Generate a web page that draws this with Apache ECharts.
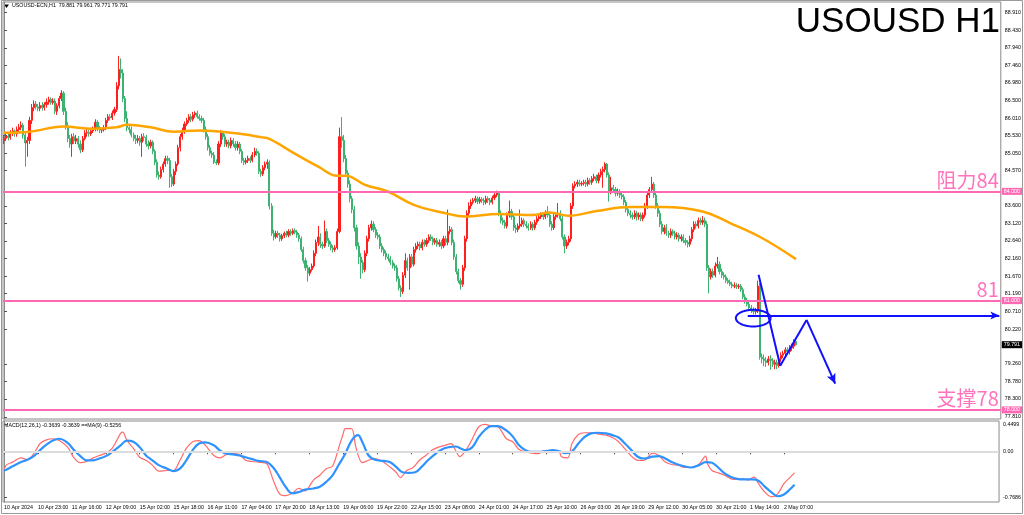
<!DOCTYPE html>
<html><head><meta charset="utf-8">
<script src="https://cdn.jsdelivr.net/npm/echarts@6/dist/echarts.min.js"></script>
<style>html,body{margin:0;padding:0;background:#fff}#c{width:1024px;height:515px}</style>
</head><body><div id="c"></div>
<script>
// ---------- DATA ----------
const tickLabels = ['10 Apr 2024','10 Apr 23:00','11 Apr 16:00','12 Apr 09:00','15 Apr 02:00','15 Apr 18:00','16 Apr 11:00','17 Apr 04:00','17 Apr 20:00','18 Apr 13:00','19 Apr 06:00','19 Apr 22:00','22 Apr 15:00','23 Apr 08:00','24 Apr 01:00','24 Apr 17:00','25 Apr 10:00','26 Apr 03:00','26 Apr 19:00','29 Apr 12:00','30 Apr 05:00','30 Apr 21:00','1 May 14:00','2 May 07:00'];
const priceTicks = [88.91,88.43,87.94,87.46,86.98,86.50,86.01,85.53,85.05,84.57,83.60,83.12,82.64,82.16,81.67,81.19,80.71,80.22,79.26,78.78,78.30,77.81];
const macdTicks = [0.4499, 0, -0.7686];
const macdTickLabels = ['0.4499', '0.00', '-0.7686'];

const opens = [85.40,85.45,85.52,85.48,85.60,85.66,85.58,85.70,85.76,85.82,
85.55,85.33,85.40,85.95,86.30,86.40,86.32,86.28,86.36,86.30,
86.38,86.45,86.52,86.44,86.48,86.20,86.35,86.55,86.70,86.20,
85.80,85.45,85.30,85.50,85.38,85.45,85.30,85.14,85.45,85.60,
85.62,85.58,85.66,85.70,85.90,85.72,85.68,85.70,85.75,85.95,
86.05,86.02,86.15,86.25,86.90,87.35,87.25,86.55,86.00,85.75,
85.70,85.55,85.45,85.40,85.45,85.35,85.50,85.48,85.30,85.25,
85.35,85.10,84.80,84.45,84.40,84.60,84.75,84.90,84.85,84.40,
84.20,84.55,84.75,85.20,85.50,85.65,85.85,85.95,86.05,85.98,
86.10,86.15,86.05,86.00,85.95,85.70,85.50,85.20,85.05,85.00,
84.80,84.78,85.30,85.60,85.50,85.30,85.35,85.25,85.40,85.30,
85.20,85.30,85.10,84.85,84.80,84.85,84.90,84.85,85.00,85.10,
85.05,84.55,84.48,84.65,84.75,84.80,83.60,82.85,82.75,82.85,
82.80,82.70,82.78,82.85,82.80,82.90,82.85,82.92,82.88,82.80,
82.70,82.40,82.10,81.90,81.75,81.85,81.95,82.30,82.60,82.75,
82.55,82.50,82.90,82.65,82.55,82.45,82.40,82.45,82.90,85.50,
85.40,84.90,84.50,84.20,83.80,83.50,83.00,82.50,82.20,82.05,
81.85,82.30,82.70,83.00,83.10,82.95,82.80,82.75,82.50,82.40,
82.30,82.20,82.15,82.05,81.95,81.90,81.60,81.35,81.25,81.70,
82.10,81.90,82.20,82.00,82.40,82.50,82.55,82.45,82.60,82.55,
82.65,82.75,82.70,82.60,82.65,82.55,82.60,82.50,82.70,82.60,
82.90,82.95,82.60,82.20,81.80,81.55,81.45,81.90,82.70,83.40,
83.60,83.70,83.75,83.80,83.72,83.78,83.75,83.70,83.80,83.76,
83.70,83.82,83.90,83.95,83.40,83.20,83.15,83.05,83.35,83.45,
83.30,83.00,82.95,83.05,83.10,83.20,83.10,83.05,83.00,83.10,
83.00,83.15,83.25,83.30,83.35,83.30,83.40,83.35,83.10,83.00,
83.30,83.35,83.40,83.25,82.75,82.50,82.60,82.70,83.60,84.15,
84.20,84.25,84.20,84.22,84.25,84.20,84.30,84.25,84.35,84.40,
84.30,84.45,84.55,84.60,84.75,84.45,84.00,84.10,84.05,83.95,
84.00,83.90,83.85,83.70,83.50,83.40,83.35,83.30,83.40,83.30,
83.35,83.25,83.35,83.60,83.90,84.05,84.20,83.90,83.60,83.40,
83.10,82.90,83.00,82.85,82.80,82.90,82.85,82.75,82.80,82.70,
82.75,82.65,82.60,82.55,82.70,82.95,83.10,83.05,83.20,83.15,
83.20,83.10,81.90,81.65,81.80,81.70,81.95,82.00,81.80,81.70,
81.65,81.55,81.50,81.45,81.40,81.42,81.38,81.40,81.30,81.10,
81.00,80.90,80.80,80.75,80.70,80.72,81.40,79.45,79.40,79.35,
79.30,79.40,79.35,79.25,79.30,79.22,79.40,79.50,79.55,79.65,
79.60,79.70,79.75,79.88];

const closes = [85.45,85.52,85.48,85.60,85.66,85.58,85.70,85.76,85.82,85.55,
85.33,85.40,85.95,86.30,86.40,86.32,86.28,86.36,86.30,86.38,
86.45,86.52,86.44,86.48,86.20,86.35,86.55,86.70,86.20,85.80,
85.45,85.30,85.50,85.38,85.45,85.30,85.14,85.45,85.60,85.62,
85.58,85.66,85.70,85.90,85.72,85.68,85.70,85.75,85.95,86.05,
86.02,86.15,86.25,86.90,87.35,87.25,86.55,86.00,85.75,85.70,
85.55,85.45,85.40,85.45,85.35,85.50,85.48,85.30,85.25,85.35,
85.10,84.80,84.45,84.40,84.60,84.75,84.90,84.85,84.40,84.20,
84.55,84.75,85.20,85.50,85.65,85.85,85.95,86.05,85.98,86.10,
86.15,86.05,86.00,85.95,85.70,85.50,85.20,85.05,85.00,84.80,
84.78,85.30,85.60,85.50,85.30,85.35,85.25,85.40,85.30,85.20,
85.30,85.10,84.85,84.80,84.85,84.90,84.85,85.00,85.10,85.05,
84.55,84.48,84.65,84.75,84.80,83.60,82.85,82.75,82.85,82.80,
82.70,82.78,82.85,82.80,82.90,82.85,82.92,82.88,82.80,82.70,
82.40,82.10,81.90,81.75,81.85,81.95,82.30,82.60,82.75,82.55,
82.50,82.90,82.65,82.55,82.45,82.40,82.45,82.90,85.50,85.40,
84.90,84.50,84.20,83.80,83.50,83.00,82.50,82.20,82.05,81.85,
82.30,82.70,83.00,83.10,82.95,82.80,82.75,82.50,82.40,82.30,
82.20,82.15,82.05,81.95,81.90,81.60,81.35,81.25,81.70,82.10,
81.90,82.20,82.00,82.40,82.50,82.55,82.45,82.60,82.55,82.65,
82.75,82.70,82.60,82.65,82.55,82.60,82.50,82.70,82.60,82.90,
82.95,82.60,82.20,81.80,81.55,81.45,81.90,82.70,83.40,83.60,
83.70,83.75,83.80,83.72,83.78,83.75,83.70,83.80,83.76,83.70,
83.82,83.90,83.95,83.40,83.20,83.15,83.05,83.35,83.45,83.30,
83.00,82.95,83.05,83.10,83.20,83.10,83.05,83.00,83.10,83.00,
83.15,83.25,83.30,83.35,83.30,83.40,83.35,83.10,83.00,83.30,
83.35,83.40,83.25,82.75,82.50,82.60,82.70,83.60,84.15,84.20,
84.25,84.20,84.22,84.25,84.20,84.30,84.25,84.35,84.40,84.30,
84.45,84.55,84.60,84.75,84.45,84.00,84.10,84.05,83.95,84.00,
83.90,83.85,83.70,83.50,83.40,83.35,83.30,83.40,83.30,83.35,
83.25,83.35,83.60,83.90,84.05,84.20,83.90,83.60,83.40,83.10,
82.90,83.00,82.85,82.80,82.90,82.85,82.75,82.80,82.70,82.75,
82.65,82.60,82.55,82.70,82.95,83.10,83.05,83.20,83.15,83.20,
83.10,81.90,81.65,81.80,81.70,81.95,82.00,81.80,81.70,81.65,
81.55,81.50,81.45,81.40,81.42,81.38,81.40,81.30,81.10,81.00,
80.90,80.80,80.75,80.70,80.72,81.40,79.45,79.40,79.35,79.30,
79.40,79.35,79.25,79.30,79.22,79.40,79.50,79.55,79.65,79.60,
79.70,79.75,79.88,79.79];

const highs = [85.55,85.60,85.58,85.68,85.75,85.70,85.78,85.85,85.92,85.88,
85.62,85.50,86.05,86.40,86.50,86.48,86.40,86.45,86.45,86.45,
86.55,86.60,86.58,86.56,86.55,86.42,86.62,86.78,86.75,86.30,
85.90,85.55,85.58,85.60,85.55,85.52,85.40,85.52,85.68,85.72,
85.70,85.72,85.78,85.98,85.95,85.80,85.76,85.82,86.02,86.12,
86.12,86.22,86.32,87.00,87.72,87.65,87.35,86.62,86.20,85.85,
85.78,85.62,85.55,85.55,85.52,85.58,85.60,85.55,85.40,85.42,
85.40,85.15,84.88,84.55,84.68,84.82,84.98,84.98,84.92,84.48,
84.62,84.82,85.28,85.58,85.75,85.92,86.02,86.12,86.12,86.18,
86.20,86.22,86.12,86.08,86.02,85.78,85.58,85.28,85.12,85.08,
84.88,85.38,85.68,85.66,85.58,85.42,85.42,85.48,85.46,85.38,
85.38,85.36,85.16,84.92,84.92,84.98,84.96,85.08,85.20,85.18,
85.10,84.62,84.72,84.82,84.88,84.85,83.68,82.95,82.92,82.92,
82.86,82.84,82.90,82.92,82.96,82.96,82.98,82.98,82.94,82.86,
82.76,82.48,82.18,81.98,81.92,82.02,82.38,82.68,83.05,82.85,
82.62,83.20,82.98,82.72,82.62,82.52,82.52,82.98,85.75,86.04,
85.55,85.00,84.58,84.30,83.88,83.60,83.08,82.60,82.30,82.12,
82.38,82.78,83.08,83.20,83.18,83.02,82.88,82.82,82.58,82.46,
82.38,82.28,82.22,82.12,82.02,81.98,81.68,81.42,81.78,82.30,
82.18,82.28,82.28,82.48,82.58,82.62,82.62,82.68,82.68,82.72,
82.82,82.82,82.76,82.72,82.72,82.68,82.66,82.78,82.78,83.50,
83.05,83.02,82.68,82.28,81.88,81.62,81.98,82.78,83.48,83.70,
83.78,83.82,83.88,83.86,83.85,83.84,83.82,83.88,83.86,83.82,
83.88,83.96,84.02,83.98,83.48,83.28,83.22,83.42,83.75,83.52,
83.38,83.08,83.12,83.50,83.28,83.26,83.18,83.12,83.18,83.16,
83.22,83.32,83.38,83.42,83.42,83.48,83.60,83.42,83.18,83.38,
83.42,83.68,83.48,83.32,82.82,82.68,82.78,83.68,84.22,84.28,
84.32,84.32,84.28,84.32,84.32,84.38,84.36,84.42,84.48,84.46,
84.52,84.62,84.68,84.80,84.78,84.52,84.40,84.18,84.12,84.08,
84.06,83.96,83.92,83.76,83.58,83.48,83.42,83.48,83.46,83.42,
83.42,83.42,83.68,83.98,84.12,84.40,84.26,83.98,83.68,83.48,
83.18,83.08,83.10,82.92,82.98,82.96,82.92,82.88,82.86,82.82,
82.82,82.72,82.66,82.78,83.02,83.18,83.18,83.28,83.28,83.32,
83.28,83.18,81.98,81.88,81.88,82.05,82.20,82.08,81.88,81.78,
81.72,81.62,81.58,81.52,81.50,81.48,81.46,81.46,81.36,81.18,
81.08,80.98,80.88,80.82,80.80,81.55,81.48,79.55,79.52,79.45,
79.48,79.50,79.42,79.38,79.38,79.48,79.58,79.62,79.72,79.72,
79.78,79.82,79.94,79.96];

const lows = [85.30,85.38,85.40,85.42,85.52,85.50,85.50,85.62,85.68,85.45,
84.68,84.95,85.30,85.85,86.20,86.25,86.20,86.20,86.22,86.22,
86.30,86.38,86.38,86.38,86.12,86.10,86.28,86.48,86.10,85.70,
85.35,85.20,84.95,85.30,85.30,85.20,85.05,85.08,85.40,85.50,
85.50,85.52,85.60,85.65,85.65,85.60,85.60,85.64,85.68,85.88,
85.95,85.96,86.08,86.18,86.80,87.10,86.45,85.90,85.65,85.60,
85.48,85.38,85.30,85.32,85.25,84.95,85.38,85.22,85.15,85.18,
85.02,84.72,84.38,84.32,84.35,84.52,84.68,84.75,84.10,84.12,
84.15,84.45,84.70,85.10,85.42,85.58,85.80,85.88,85.90,85.92,
86.02,86.00,85.94,85.88,85.62,85.42,85.12,84.98,84.92,84.75,
84.72,84.72,85.22,85.42,85.22,85.22,85.18,85.18,85.22,85.12,
85.12,85.02,84.78,84.72,84.74,84.78,84.78,84.80,84.94,84.98,
84.48,84.40,84.42,84.58,84.62,83.50,82.78,82.65,82.70,82.72,
82.62,82.64,82.72,82.74,82.74,82.78,82.80,82.82,82.72,82.62,
82.34,82.02,81.82,81.52,81.68,81.80,81.90,82.22,82.50,82.45,
82.42,82.45,82.58,82.48,82.38,82.32,82.34,82.40,82.85,85.20,
84.80,84.42,84.10,83.70,83.40,82.90,82.40,82.00,81.60,81.75,
81.78,82.22,82.62,82.92,82.88,82.72,82.68,82.42,82.32,82.22,
82.12,82.08,81.98,81.88,81.82,81.52,81.28,81.10,81.18,81.62,
81.82,81.30,81.92,81.94,82.32,82.42,82.38,82.38,82.48,82.48,
82.58,82.64,82.52,82.54,82.48,82.48,82.42,82.44,82.52,82.52,
82.82,82.52,82.12,81.72,81.48,81.30,81.38,81.82,82.62,83.32,
83.52,83.64,83.68,83.65,83.66,83.68,83.62,83.64,83.68,83.62,
83.64,83.76,83.84,83.32,83.12,83.08,82.98,82.98,83.28,83.22,
82.92,82.86,82.88,82.98,83.02,83.02,82.98,82.92,82.94,82.92,
82.94,83.08,83.18,83.24,83.22,83.24,83.28,83.02,82.92,82.94,
83.22,83.28,83.18,82.68,82.30,82.42,82.52,82.62,83.52,84.08,
84.12,84.14,84.14,84.16,84.12,84.14,84.18,84.18,84.28,84.22,
84.22,84.38,84.10,84.52,84.38,83.72,83.92,83.96,83.86,83.88,
83.82,83.78,83.62,83.42,83.32,83.26,83.22,83.24,83.20,83.22,
83.18,83.18,83.28,83.52,83.82,83.98,83.82,83.52,83.30,83.02,
82.82,82.82,82.78,82.72,82.72,82.78,82.68,82.68,82.62,82.62,
82.58,82.52,82.46,82.48,82.62,82.88,82.98,82.98,83.08,83.08,
83.02,81.82,81.20,81.58,81.62,81.64,81.88,81.72,81.62,81.58,
81.48,81.46,81.40,81.34,81.34,81.32,81.32,81.24,81.04,80.92,
80.84,80.72,80.66,80.62,80.62,80.66,79.38,79.28,79.20,79.18,
79.22,79.10,79.18,79.12,79.12,79.16,79.32,79.42,79.46,79.52,
79.52,79.62,79.68,79.77];

// moving average (orange) read at sample bars
const maIdx = [0,12,28,42,53,58,69,80,92,108,121,125,138,148,157,161,170,181,193,208,217,233,249,257,266,279,295,310,329,342,357,373];
const maVal = [85.61,85.64,85.78,85.72,85.76,85.83,85.76,85.64,85.67,85.60,85.49,85.44,85.00,84.68,84.43,84.43,84.18,83.99,83.63,83.40,83.31,83.38,83.35,83.42,83.33,83.46,83.57,83.57,83.45,83.13,82.72,82.14];

// MACD main (red) and signal (blue) read at sample bars
const macdIdx = [0,1,4,8,11,14,17,20,23,26,30,33,36,39,42,45,48,51,55,56,58,61,64,67,70,73,77,80,83,86,89,92,95,99,102,105,108,111,114,117,120,124,127,130,133,136,139,142,146,149,152,155,158,160,161,164,166,169,172,175,179,182,185,187,190,193,196,199,202,205,208,211,213,215,218,221,224,227,230,233,237,240,243,246,249,252,255,259,262,263,266,268,271,274,277,280,284,287,290,293,296,299,302,306,309,312,315,318,321,324,328,331,332,334,337,340,343,346,349,351,353,354,356,359,362,365,368,371,373];
const macdVal = [-0.32,-0.23,-0.18,-0.11,-0.14,-0.04,0.13,0.19,0.21,0.18,0.07,-0.11,-0.19,-0.17,-0.11,-0.07,-0.03,0.05,0.30,0.32,0.18,0.05,-0.10,-0.15,-0.23,-0.33,-0.32,-0.32,-0.15,0.05,0.16,0.18,0.10,-0.07,-0.11,-0.05,-0.04,-0.05,-0.15,-0.17,-0.18,-0.21,-0.48,-0.71,-0.74,-0.70,-0.62,-0.66,-0.48,-0.40,-0.29,-0.25,0.07,0.29,0.38,0.38,0.07,-0.19,-0.15,-0.12,-0.18,-0.26,-0.35,-0.44,-0.32,-0.27,-0.15,-0.07,0.02,0.07,0.10,0.13,0.02,-0.09,0.02,0.21,0.41,0.45,0.42,0.41,0.21,0.16,0.03,-0.01,-0.03,-0.04,0.01,0.01,-0.01,-0.09,-0.11,0.13,0.28,0.31,0.31,0.29,0.27,0.23,0.16,0.04,-0.08,-0.15,-0.15,-0.03,-0.07,-0.18,-0.22,-0.23,-0.27,-0.27,-0.21,-0.08,-0.21,-0.32,-0.36,-0.40,-0.46,-0.47,-0.46,-0.48,-0.44,-0.43,-0.54,-0.68,-0.76,-0.71,-0.54,-0.43,-0.36];
const sigIdx = [0,1,4,8,11,14,17,20,23,26,30,33,36,39,42,45,48,51,55,58,61,64,67,70,73,77,80,83,86,89,92,95,99,102,105,108,111,114,117,120,124,127,130,133,136,139,142,146,149,152,155,158,161,164,167,169,172,175,179,182,185,188,191,194,197,200,204,207,210,213,216,218,221,224,227,230,233,237,240,243,246,249,252,255,259,262,265,268,271,274,277,280,284,287,290,293,296,299,302,306,309,312,315,318,321,324,328,331,334,337,340,343,346,349,353,356,359,362,365,368,371,373];
const sigVal = [-0.32,-0.31,-0.25,-0.18,-0.14,-0.08,0.02,0.11,0.18,0.21,0.14,0.02,-0.08,-0.15,-0.15,-0.12,-0.08,-0.01,0.10,0.18,0.16,0.07,-0.07,-0.15,-0.23,-0.29,-0.33,-0.29,-0.15,0.02,0.13,0.15,0.10,0.01,-0.04,-0.05,-0.07,-0.10,-0.13,-0.16,-0.18,-0.27,-0.43,-0.60,-0.70,-0.68,-0.64,-0.62,-0.59,-0.51,-0.40,-0.22,-0.04,0.18,0.27,0.16,-0.07,-0.14,-0.16,-0.18,-0.26,-0.35,-0.36,-0.35,-0.26,-0.15,-0.03,0.04,0.07,0.08,0.04,0.02,0.07,0.24,0.36,0.42,0.42,0.35,0.25,0.10,0.02,-0.01,-0.01,0.00,0.02,0.00,-0.03,0.00,0.13,0.24,0.30,0.31,0.30,0.27,0.23,0.13,0.02,-0.09,-0.12,-0.09,-0.08,-0.12,-0.18,-0.22,-0.25,-0.27,-0.23,-0.18,-0.19,-0.27,-0.37,-0.43,-0.46,-0.47,-0.47,-0.49,-0.59,-0.68,-0.75,-0.72,-0.63,-0.56];

// levels and annotations (bar index, price)
const levels = [84, 81, 78];
const levelText = ['阻力84', '81', '支撑78'];
const lastPrice = 79.791;
const zigzag = [[355.4, 81.71], [365.6, 79.21], [378, 80.47], [391.5, 78.72]];
const hArrow = [[350.3, 80.59], [468.8, 80.59]];
const ellipse = [352.9, 80.52, 8.2, 0.228];

// ---------- CHART ----------
const NCAT = 470;
const categories = Array.from({length: NCAT}, (_, i) => String(i));
const candles = opens.map((o, i) => [o, closes[i], lows[i], highs[i]]);
const pair = (xs, ys) => xs.map((x, i) => [x, ys[i]]);
const FONT = 'Liberation Sans';
const PINK = '#ff69b4';
const BLUE = '#1010ff';

const labelFn = (idx) => idx % 16 === 0 && idx / 16 < tickLabels.length;

const markLevels = [];
levels.forEach((lv, k) => {
  markLevels.push({yAxis: lv, label: {show: true, position: 'insideEndTop', formatter: levelText[k], color: '#ff73bd', fontSize: 20, fontFamily: 'Noto Sans CJK SC', distance: [2, 1]}});
  markLevels.push({yAxis: lv, label: {show: true, position: 'end', formatter: lv.toFixed(3), color: '#fff', backgroundColor: PINK, fontSize: 5.3, fontFamily: FONT, padding: [1, 2, 1, 2], distance: 1}});
});

const zigLines = [];
for (let k = 0; k < zigzag.length - 1; k++) {
  const last = k === zigzag.length - 2;
  zigLines.push([{coord: zigzag[k], symbol: 'none'}, {coord: zigzag[k + 1], symbol: last ? 'arrow' : 'none', symbolSize: [7, 10]}]);
}
zigLines.push([{coord: hArrow[0], symbol: 'none'}, {coord: hArrow[1], symbol: 'arrow', symbolSize: [6, 9]}]);

const option = {
  animation: false,
  backgroundColor: '#fff',
  grid: [
    {left: 3, top: 2, width: 998.75, height: 417, show: true, borderColor: '#8a8a8a', borderWidth: 1},
    {left: 3, top: 421, width: 998.75, height: 81, show: true, borderColor: '#8a8a8a', borderWidth: 1}
  ],
  xAxis: [
    {type: 'category', gridIndex: 0, data: categories, boundaryGap: true, axisLine: {show: false}, axisTick: {show: false}, axisLabel: {show: false}, splitLine: {show: false}},
    {type: 'category', gridIndex: 1, data: categories, boundaryGap: true, position: 'bottom',
      axisLine: {show: true, lineStyle: {color: '#8a8a8a'}},
      axisTick: {show: true, interval: labelFn, alignWithLabel: true, length: 3, lineStyle: {color: '#555'}},
      axisLabel: {show: true, interval: labelFn, formatter: (v, idx) => tickLabels[idx / 16], align: 'left', fontSize: 5.3, fontFamily: FONT, color: '#000', margin: 3},
      splitLine: {show: false}},
    {type: 'value', gridIndex: 0, min: -0.5, max: NCAT - 0.5, show: false},
    {type: 'value', gridIndex: 1, min: -0.5, max: NCAT - 0.5, show: false}
  ],
  yAxis: [
    {type: 'value', gridIndex: 0, position: 'right', min: 77.75, max: 89.20, scale: true,
      axisLine: {show: true, lineStyle: {color: '#8a8a8a'}},
      axisTick: {show: true, customValues: priceTicks, length: 3, lineStyle: {color: '#555'}},
      axisLabel: {show: true, customValues: priceTicks, formatter: v => v.toFixed(3), fontSize: 5.3, fontFamily: FONT, color: '#000', margin: 4},
      splitLine: {show: false}},
    {type: 'value', gridIndex: 1, position: 'right', min: -0.846, max: 0.506,
      axisLine: {show: true, lineStyle: {color: '#8a8a8a'}},
      axisTick: {show: true, customValues: macdTicks, length: 3, lineStyle: {color: '#555'}},
      axisLabel: {show: true, customValues: macdTicks, formatter: v => macdTickLabels[macdTicks.indexOf(v)] ?? String(v), fontSize: 5.3, fontFamily: FONT, color: '#000', margin: 4},
      splitLine: {show: false}}
  ],
  series: [
    {type: 'candlestick', xAxisIndex: 0, yAxisIndex: 0, data: candles, barWidth: 1.6,
      itemStyle: {color: '#ff1f1f', color0: '#3cb371', borderColor: '#ff1f1f', borderColor0: '#3cb371', borderWidth: 1},
      markLine: {silent: true, symbol: ['none', 'none'], lineStyle: {color: PINK, width: 2, type: 'solid'}, data: markLevels}},
    {type: 'line', name: 'Last', xAxisIndex: 2, yAxisIndex: 0, data: [], showSymbol: false,
      markLine: {silent: true, symbol: ['none', 'none'], lineStyle: {color: 'rgba(0,0,0,0)', width: 1},
        data: [{yAxis: lastPrice, label: {show: true, position: 'end', formatter: lastPrice.toFixed(3), color: '#fff', backgroundColor: '#000', fontSize: 5.3, fontFamily: FONT, padding: [1, 2, 1, 2], distance: 1}}]}},
    {type: 'line', name: 'MA', xAxisIndex: 2, yAxisIndex: 0, data: pair(maIdx, maVal), smooth: 0.4, showSymbol: false,
      lineStyle: {color: '#ffa500', width: 2.5}, z: 3,
      markLine: {silent: true, symbol: ['none', 'none'], lineStyle: {color: BLUE, width: 2, type: 'solid'}, label: {show: false}, data: zigLines}},
    {type: 'custom', xAxisIndex: 2, yAxisIndex: 0, data: [ellipse], z: 5,
      renderItem: (params, api) => {
        const c = api.coord([api.value(0), api.value(1)]);
        const s = api.size([api.value(2), api.value(3)]);
        const pts = [];
        for (let k = 0; k <= 60; k++) { const t = k / 60 * Math.PI * 2; pts.push([c[0] + s[0] * Math.cos(t), c[1] + s[1] * Math.sin(t)]); }
        return {type: 'polyline', shape: {points: pts}, style: {stroke: BLUE, lineWidth: 2, fill: null}};
      }},
    {type: 'line', name: 'MACD', xAxisIndex: 3, yAxisIndex: 1, data: pair(macdIdx, macdVal), smooth: 0.3, showSymbol: false,
      lineStyle: {color: '#ff6b6b', width: 1.2}, z: 3,
      markLine: {silent: true, symbol: ['none', 'none'], label: {show: false}, lineStyle: {color: '#dcdcdc', width: 2, type: 'solid'}, data: [{yAxis: 0}]}},
    {type: 'line', name: 'Signal', xAxisIndex: 3, yAxisIndex: 1, data: pair(sigIdx, sigVal), smooth: 0.4, showSymbol: false,
      lineStyle: {color: '#2f93ff', width: 2.2}, z: 4}
  ],
  graphic: [
    {type: 'rect', shape: {x: 1.5, y: 0.5, width: 1021, height: 513}, style: {fill: null, stroke: '#9a9a9a', lineWidth: 1}, silent: true},
    {type: 'polygon', shape: {points: [[4, 4.5], [9, 4.5], [6.5, 8]]}, style: {fill: '#000'}},
    {type: 'text', left: 12, top: 3.5, style: {text: 'USOUSD-ECN,H1  79.881 79.961 79.771 79.791', fontSize: 5.3, fontFamily: FONT, fill: '#000'}},
    {type: 'text', left: 4, top: 423, style: {text: 'MACD(12,26,1) -0.3639 -0.3639 ==MA(9) -0.5256', fontSize: 5.3, fontFamily: FONT, fill: '#000'}},
    {type: 'text', right: 24, top: 5, style: {text: 'USOUSD H1', fontSize: 35, fontFamily: FONT, fill: '#000'}}
  ]
};
const chart = echarts.init(document.getElementById('c'), null, {renderer: 'canvas'});
chart.setOption(option);
</script></body></html>
